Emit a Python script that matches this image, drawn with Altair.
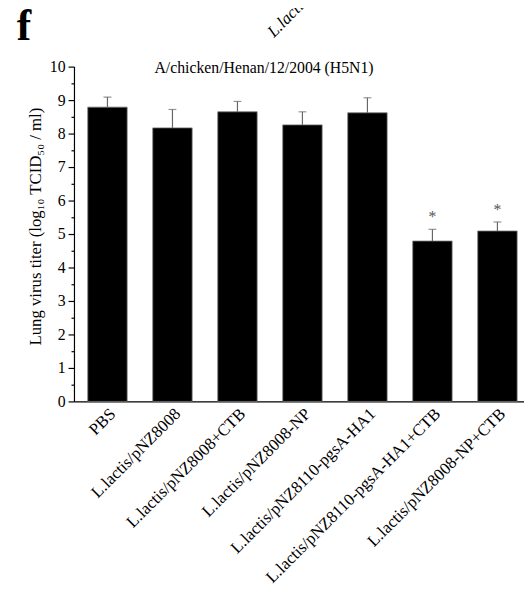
import altair as alt
import pandas as pd

groups = ["PBS", "L.lactis/pNZ8008", "L.lactis/pNZ8008+CTB", "L.lactis/pNZ8008-NP",
          "L.lactis/pNZ8110-pgsA-HA1", "L.lactis/pNZ8110-pgsA-HA1+CTB", "L.lactis/pNZ8008-NP+CTB"]
titer = [8.79, 8.17, 8.65, 8.26, 8.62, 4.79, 5.09]
err = [0.30, 0.55, 0.31, 0.39, 0.45, 0.35, 0.27]
star = ["", "", "", "", "", "*", "*"]
title_text = "A/chicken/Henan/12/2004 (H5N1)"
y_title = "Lung virus titer (log₁₀ TCID₅₀ / ml)"

df = pd.DataFrame({"group": groups, "titer": titer, "err": err, "star": star})
df["upper"] = df["titer"] + df["err"]

FONT = "Liberation Serif"

xaxis = alt.Axis(labelAngle=315, labelFont=FONT, labelFontSize=17, labelColor="#000",
                 ticks=False, domainColor="#000", domainWidth=1.2, labelPadding=4,
                 labelLimit=400, labelOverlap=False)
xscale = alt.Scale(paddingInner=0.394, paddingOuter=0.159, align=0.667)


def X():
    return alt.X("group:N", sort=groups, title=None, scale=xscale, axis=xaxis)


yticks = [i * 0.5 for i in range(21)]
yaxis = alt.Axis(values=yticks,
                 labelExpr="datum.value % 1 === 0 ? format(datum.value, 'd') : ''",
                 labelOverlap=False,
                 tickSize={"condition": {"test": "datum.value % 1 !== 0", "value": 3}, "value": 6},
                 tickColor="#000", domainColor="#000", domainWidth=1.2, tickWidth=1.2,
                 labelFont=FONT, labelFontSize=16, labelColor="#000", grid=False,
                 titleFont=FONT, titleFontSize=17, titleFontWeight="normal",
                 titleColor="#000", titlePadding=5, labelPadding=3, titleY=162)
yscale = alt.Scale(domain=[0, 10], nice=False)


def Y(field):
    return alt.Y(field, title=y_title, scale=yscale, axis=yaxis)


base = alt.Chart(df)

bars = base.mark_bar(color="#000", stroke="#777", strokeWidth=0.8).encode(x=X(), y=Y("titer:Q"))
whisk = base.mark_rule(color="#666", strokeWidth=1.2).encode(
    x=X(), y=Y("titer:Q"), y2="upper:Q")
caps = base.mark_tick(color="#666", orient="horizontal", size=8, thickness=1.2).encode(
    x=X(), y=Y("upper:Q"))
stars = base.mark_text(font=FONT, fontSize=16, color="#555", baseline="bottom", dy=-4).encode(
    x=X(), y=Y("upper:Q"), text="star:N")

title_mark = alt.Chart(pd.DataFrame({"t": [title_text]})).mark_text(
    font=FONT, fontSize=16, align="center", baseline="middle", color="#000"
).encode(x=alt.value(193), y=alt.value(1), text="t:N")

panel = alt.Chart(pd.DataFrame({"t": ["f"]})).mark_text(
    font=FONT, fontSize=44, fontWeight="bold", align="left", baseline="alphabetic", color="#000"
).encode(x=alt.value(-58), y=alt.value(-27), text="t:N")

frag = alt.Chart(pd.DataFrame({"t": ["L.lactis/pNZ8008"]})).mark_text(
    font=FONT, fontSize=17, fontStyle="italic", align="left", baseline="alphabetic", color="#000"
).encode(x=alt.value(203), y=alt.value(-29), angle=alt.value(315), text="t:N")

chart = alt.layer(bars, whisk, caps, stars, title_mark, panel, frag).properties(
    width=457, height=340,
    autosize=alt.AutoSizeParams(type="none"),
    padding={"left": 67, "top": 55, "right": 0, "bottom": 189},
).configure_view(stroke=None)

chart.save("out.html", embed_options={"renderer": "svg", "actions": False})
